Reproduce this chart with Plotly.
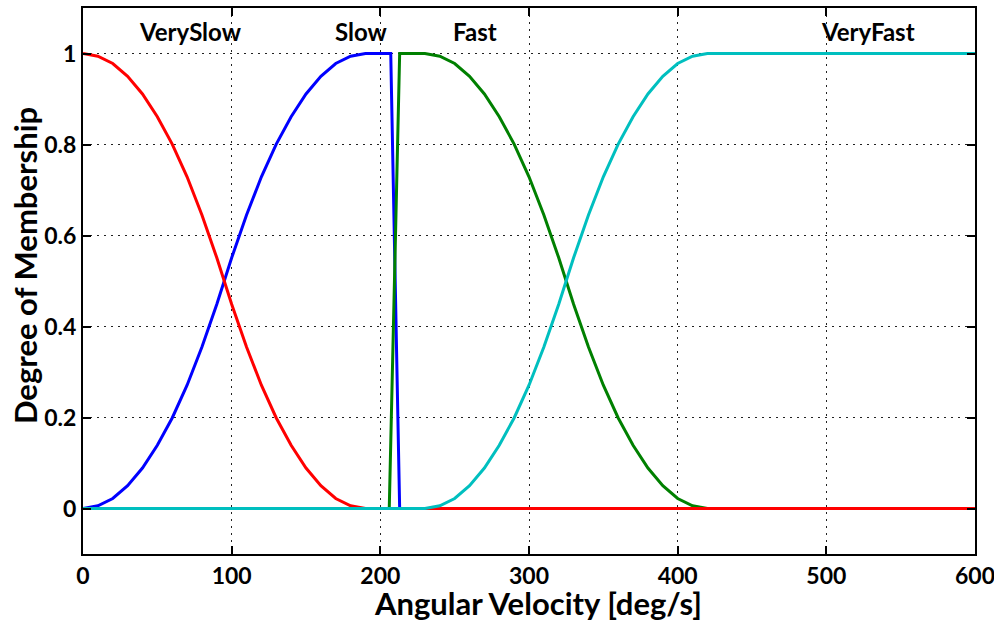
import plotly.graph_objects as go

# Angular velocity samples [deg/s] and membership degrees
x_veryslow = [0, 10, 20, 30, 40, 50, 60, 70, 80, 90, 100, 110, 120, 130, 140, 150, 160, 170, 180, 190, 600]
y_veryslow = [1, 0.994, 0.978, 0.950, 0.911, 0.861, 0.801, 0.729, 0.645, 0.551, 0.449, 0.355, 0.271, 0.199, 0.139, 0.089, 0.050, 0.022, 0.006, 0, 0]

x_slow = [0, 10, 20, 30, 40, 50, 60, 70, 80, 90, 100, 110, 120, 130, 140, 150, 160, 170, 180, 190, 207, 213, 600]
y_slow = [0, 0.006, 0.022, 0.050, 0.089, 0.139, 0.199, 0.271, 0.355, 0.449, 0.551, 0.645, 0.729, 0.801, 0.861, 0.911, 0.950, 0.978, 0.994, 1, 1, 0, 0]

x_fast = [0, 206, 213, 230, 240, 250, 260, 270, 280, 290, 300, 310, 320, 330, 340, 350, 360, 370, 380, 390, 400, 410, 420, 600]
y_fast = [0, 0, 1, 1, 0.994, 0.978, 0.950, 0.911, 0.861, 0.801, 0.729, 0.645, 0.551, 0.449, 0.355, 0.271, 0.199, 0.139, 0.089, 0.050, 0.022, 0.006, 0, 0]

x_veryfast = [0, 230, 240, 250, 260, 270, 280, 290, 300, 310, 320, 330, 340, 350, 360, 370, 380, 390, 400, 410, 420, 600]
y_veryfast = [0, 0, 0.006, 0.022, 0.050, 0.089, 0.139, 0.199, 0.271, 0.355, 0.449, 0.551, 0.645, 0.729, 0.801, 0.861, 0.911, 0.950, 0.978, 0.994, 1, 1]

label_names = ["VerySlow", "Slow", "Fast", "VeryFast"]
label_x = [72, 187, 264, 528]
label_y = [1.048, 1.048, 1.048, 1.048]

x_ticks = [0, 100, 200, 300, 400, 500, 600]
y_ticks = [0, 0.2, 0.4, 0.6, 0.8, 1]

x_title = "Angular Velocity [deg/s]"
y_title = "Degree of Membership"

FONT = "Lato"

fig = go.Figure()
# drawing order so that red lies over blue/green and cyan on top at zero
fig.add_trace(go.Scatter(x=x_slow, y=y_slow, mode="lines", line=dict(color="#0000ff", width=3), name="Slow"))
fig.add_trace(go.Scatter(x=x_fast, y=y_fast, mode="lines", line=dict(color="#008000", width=3), name="Fast"))
fig.add_trace(go.Scatter(x=x_veryslow, y=y_veryslow, mode="lines", line=dict(color="#ff0000", width=3), name="VerySlow"))
fig.add_trace(go.Scatter(x=x_veryfast, y=y_veryfast, mode="lines", line=dict(color="#00bfbf", width=3), name="VeryFast"))

for name, lx, ly in zip(label_names, label_x, label_y):
    fig.add_annotation(x=lx, y=ly, xref="x", yref="y", text=name, showarrow=False,
                       font=dict(family=FONT, size=24, color="black", weight="bold"))

# axis titles as annotations for exact placement
fig.add_annotation(x=0.5, y=0, xref="paper", yref="paper", yanchor="middle", xanchor="center",
                   yshift=-49, xshift=9, text=x_title, showarrow=False, borderpad=0,
                   font=dict(family=FONT, size=31, color="black", weight="bold"))
fig.add_annotation(x=0, y=0.5, xref="paper", yref="paper", yanchor="middle", xanchor="center",
                   xshift=-58, yshift=15, text=y_title, showarrow=False, textangle=-90, borderpad=0,
                   font=dict(family=FONT, size=31, color="black", weight="bold"))

axis_common = dict(
    showline=True, linecolor="black", linewidth=2, mirror="ticks",
    ticks="inside", ticklen=8, tickwidth=1.5, tickcolor="black",
    showgrid=True, gridcolor="#222222", gridwidth=1, griddash="2px,5px",
    zeroline=False, automargin=False, ticklabeloverflow="allow",
    tickfont=dict(family=FONT, size=23, color="black", weight="bold"),
)

fig.update_xaxes(range=[0, 600], tickvals=x_ticks, ticklabelstandoff=0, **axis_common)
fig.update_yaxes(range=[-0.1, 1.1], tickvals=y_ticks, ticklabelstandoff=0, **axis_common)

fig.update_layout(
    width=994, height=621,
    margin=dict(l=83, r=19, t=8, b=67),
    plot_bgcolor="white", paper_bgcolor="white",
    showlegend=False,
)

fig.write_html("out.html", config={"displayModeBar": False},
               post_script="document.body.style.margin='0px';")
